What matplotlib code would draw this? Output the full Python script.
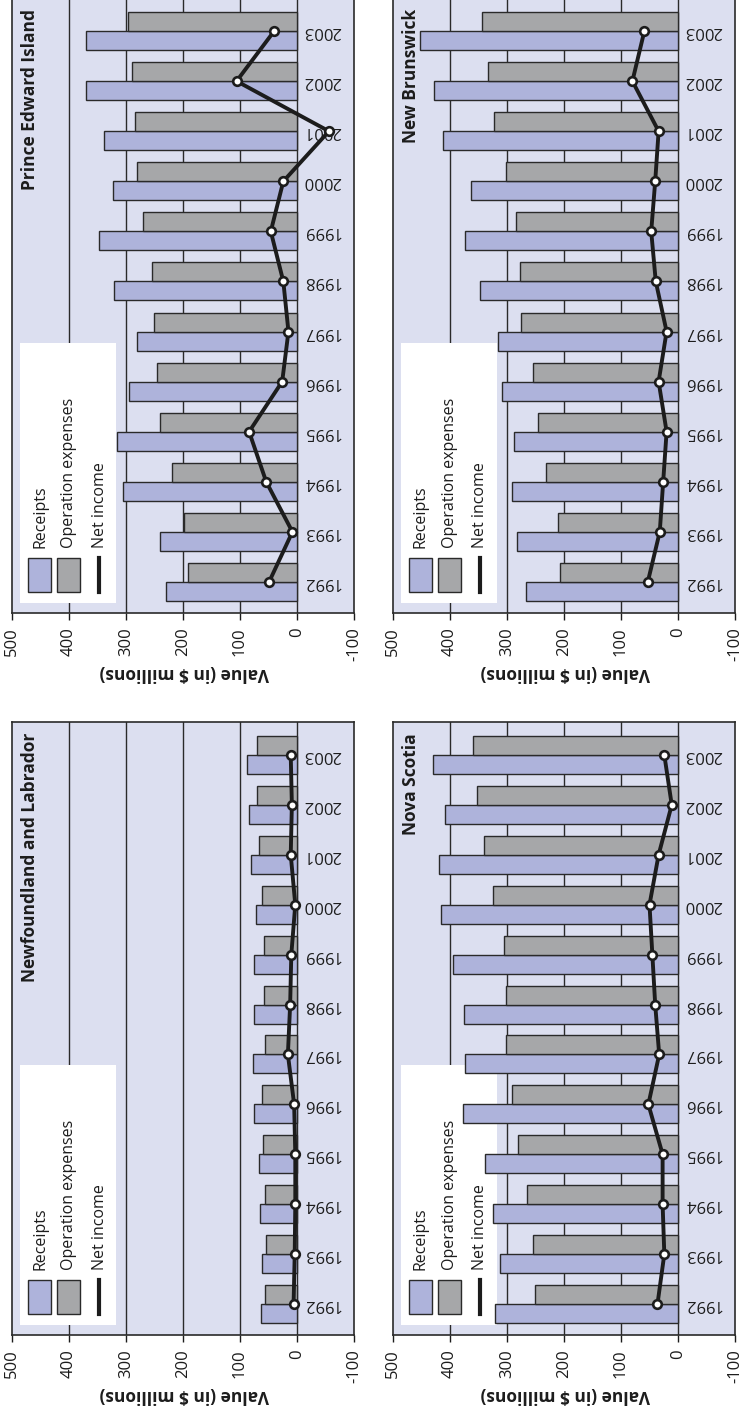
import matplotlib
matplotlib.use("Agg")
import matplotlib.pyplot as plt
import matplotlib.transforms as mtransforms
from matplotlib.patches import Rectangle
from matplotlib.lines import Line2D
import numpy as np

plt.rcParams['font.family'] = ['Open Sans', 'DejaVu Sans']

years = [1992, 1993, 1994, 1995, 1996, 1997, 1998, 1999, 2000, 2001, 2002, 2003]
value_ticks = [500, 400, 300, 200, 100, 0, -100]
legend_labels = ["Receipts", "Operation expenses", "Net income"]
axis_label = "Value (in $ millions)"

pei_receipts = [229, 240, 305, 315, 295, 280, 321, 347, 322, 338, 370, 370]
pei_expenses = [191, 198, 220, 240, 245, 250, 255, 270, 281, 284, 290, 296]
pei_net = [49, 8, 54, 84, 26, 15, 24, 46, 24, -56, 106, 40]

nb_receipts = [267, 282, 292, 288, 308, 316, 347, 373, 364, 412, 428, 453]
nb_expenses = [207, 210, 232, 245, 255, 275, 277, 285, 301, 322, 334, 343]
nb_net = [53, 32, 26, 20, 34, 20, 39, 47, 40, 34, 80, 59]

nl_receipts = [64, 62, 65, 66, 75, 78, 76, 76, 72, 81, 84, 87]
nl_expenses = [56, 55, 57, 60, 62, 57, 58, 58, 62, 66, 70, 71]
nl_net = [6, 4, 3, 3, 5, 16, 12, 10, 3, 11, 9, 11]

ns_receipts = [321, 312, 325, 339, 378, 373, 375, 395, 415, 419, 408, 429]
ns_expenses = [251, 254, 265, 280, 292, 302, 302, 305, 325, 340, 352, 359]
ns_net = [36, 24, 27, 27, 52, 33, 40, 45, 50, 34, 11, 24]

BG = "#dcdff0"
BLUE = "#aeb3db"
GREY = "#a6a7a9"
EDGE = "#2a2a2a"
INK = "#1c1c1c"

W, H = 744, 1414
fig = plt.figure(figsize=(W / 100, H / 100), dpi=100)
fig.patch.set_facecolor("white")


def px_rect(left, top, right, bottom):
    return [left / W, 1 - bottom / H, (right - left) / W, (bottom - top) / H]


def draw_panel(title, receipts, expenses, net, left, top, right, bottom):
    ax = fig.add_axes(px_rect(left, top, right, bottom))
    ax.set_facecolor(BG)
    y = np.arange(len(years))
    ax.set_xlim(500, -100)
    ax.set_ylim(-0.62, len(years) - 0.34)

    for v in [400, 300, 200, 100, 0]:
        ax.axvline(v, color=EDGE, lw=1.0, zorder=0.5)

    ax.barh(y - 0.19, receipts, height=0.38, color=BLUE, edgecolor=EDGE,
            linewidth=1.0, zorder=2)
    ax.barh(y + 0.19, expenses, height=0.38, color=GREY, edgecolor=EDGE,
            linewidth=1.0, zorder=2)
    ax.plot(net, y, color=INK, lw=2.8, marker="o", ms=6.2, mfc="white",
            mec=INK, mew=1.9, zorder=4, solid_capstyle="round")

    shift = mtransforms.ScaledTranslation(6 / 100, 0, fig.dpi_scale_trans)
    for yi, yr in zip(y, years):
        ax.text(0, yi, str(yr), transform=ax.transData + shift, rotation=180,
                ha="left", va="center", fontsize=12, color=INK, zorder=3)

    ax.set_yticks([])
    ax.set_xticks(value_ticks)
    ax.set_xticklabels([str(v) for v in value_ticks])
    ax.tick_params(axis="x", direction="out", length=5, width=1.0, pad=5,
                   labelsize=12, labelrotation=90, colors=INK)
    for s in ax.spines.values():
        s.set_linewidth(1.2)
        s.set_color(EDGE)

    w_px, h_px = right - left, bottom - top
    tp = mtransforms.Affine2D().scale(1 / w_px, 1 / h_px) + ax.transAxes

    ax.text(18 / w_px, 1 - 11 / h_px, title, transform=ax.transAxes,
            rotation=90, ha="center", va="top", fontsize=12.5,
            fontweight="bold", color=INK, zorder=3)

    # legend box with rotated entries
    ax.add_patch(Rectangle((8, 10), 96, 260, transform=tp, facecolor="white",
                           edgecolor="none", zorder=1))
    ax.add_patch(Rectangle((16, 21), 23, 34, transform=tp, facecolor=BLUE,
                           edgecolor=EDGE, lw=1.0, zorder=1.5))
    ax.add_patch(Rectangle((45, 21), 23, 34, transform=tp, facecolor=GREY,
                           edgecolor=EDGE, lw=1.0, zorder=1.5))
    ax.add_line(Line2D([86.5, 86.5], [21, 55], transform=tp, color=INK,
                       lw=3.0, zorder=1.5))
    for xc, lab in zip([28, 57, 87.5], legend_labels):
        ax.text(xc, 65, lab, transform=tp, rotation=90, ha="center",
                va="bottom", fontsize=11.5, color=INK, zorder=1.6)
    return ax


draw_panel("Prince Edward Island", pei_receipts, pei_expenses, pei_net,
           12, -2, 354, 613)
draw_panel("New Brunswick", nb_receipts, nb_expenses, nb_net,
           393, -2, 735, 613)
draw_panel("Newfoundland and Labrador", nl_receipts, nl_expenses, nl_net,
           12, 722, 354, 1335)
draw_panel("Nova Scotia", ns_receipts, ns_expenses, ns_net,
           393, 722, 735, 1335)

for cx, cy in [(184, 673), (565, 673), (184, 1395), (565, 1395)]:
    fig.text(cx / W, 1 - cy / H, axis_label, rotation=180, ha="center",
             va="center", fontsize=12.5, fontweight="bold", color=INK)

fig.savefig("out.png", dpi=100, facecolor="white")
